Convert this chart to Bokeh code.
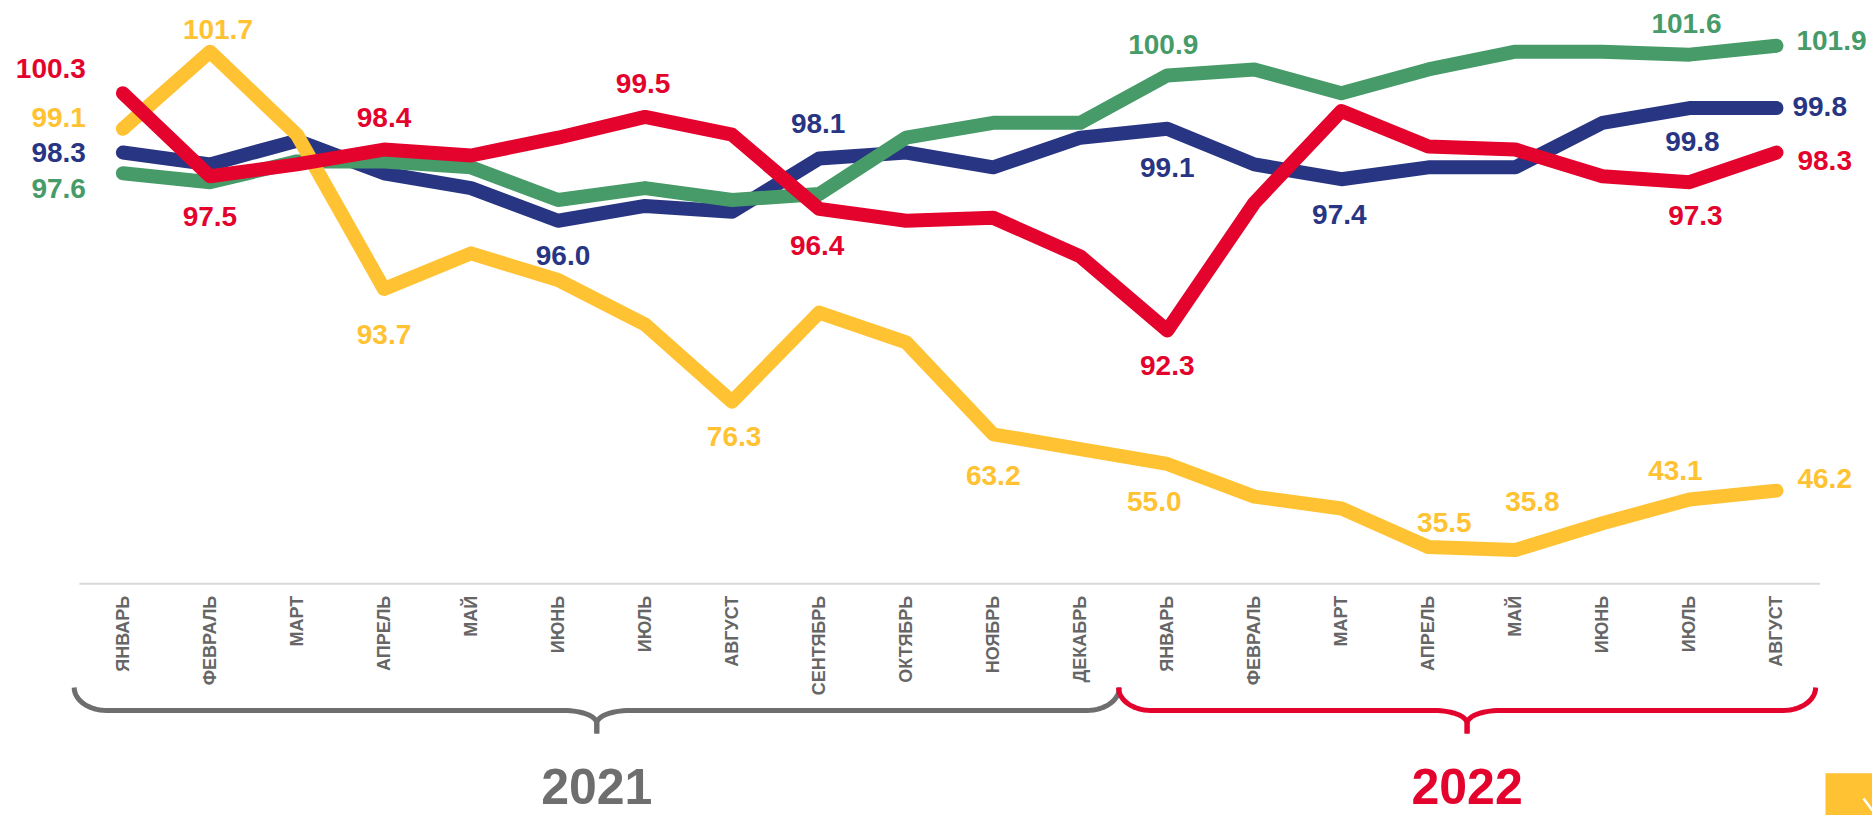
import math
import numpy as np
from bokeh.plotting import figure
from bokeh.models import Range1d
from bokeh.core.properties import value
from bokeh.embed import file_html
from bokeh.resources import INLINE

# ---------------- data ----------------
months = ["ЯНВАРЬ", "ФЕВРАЛЬ", "МАРТ", "АПРЕЛЬ", "МАЙ", "ИЮНЬ", "ИЮЛЬ", "АВГУСТ",
          "СЕНТЯБРЬ", "ОКТЯБРЬ", "НОЯБРЬ", "ДЕКАБРЬ",
          "ЯНВАРЬ", "ФЕВРАЛЬ", "МАРТ", "АПРЕЛЬ", "МАЙ", "ИЮНЬ", "ИЮЛЬ", "АВГУСТ"]
year_names = ["2021", "2022"]
year_months = [12, 8]

red = [100.3, 97.5, 97.9, 98.4, 98.2, 98.8, 99.5, 98.9, 96.4, 96.0, 96.1, 94.8,
       92.3, 96.6, 99.7, 98.5, 98.4, 97.5, 97.3, 98.3]
blue = [98.3, 97.9, 98.7, 97.6, 97.1, 96.0, 96.5, 96.3, 98.1, 98.3, 97.8, 98.8,
        99.1, 97.9, 97.4, 97.8, 97.8, 99.3, 99.8, 99.8]
green = [97.6, 97.3, 98.0, 98.0, 97.8, 96.7, 97.1, 96.7, 96.9, 98.8, 99.3, 99.3,
         100.9, 101.1, 100.3, 101.1, 101.7, 101.7, 101.6, 101.9]
# yellow series is drawn on a compressed scale in the original; drawn positions + printed labels
yellow_drawn = [99.1, 101.7, 98.9, 93.7, 94.9, 94.0, 92.5, 89.9, 92.9, 91.9, 88.8, 88.3,
                87.8, 86.7, 86.3, 85.0, 84.9, 85.8, 86.6, 86.9]
yellow_label_idx = [0, 1, 3, 7, 10, 12, 15, 16, 18, 19]
yellow_label_txt = ["99.1", "101.7", "93.7", "76.3", "63.2", "55.0", "35.5", "35.8", "43.1", "46.2"]

red_label_idx = [0, 1, 3, 6, 8, 12, 18, 19]
blue_label_idx = [0, 5, 8, 12, 14, 18, 19]
green_label_idx = [0, 12, 18, 19]

# ---------------- style / layout ----------------
RED = "#E3032D"
YELLOW = "#FFC232"
BLUE = "#283583"
GREEN = "#469B68"
GREY = "#6E6E6E"
FONT = "Liberation Sans"

FIG_W, FIG_H = 1872, 815
X0, X1 = -1.4064, 20.1034
Y0, Y1 = 75.9473, 103.4255
PPX = FIG_W / (X1 - X0)
PPY = FIG_H / (Y1 - Y0)
Y_FLOOR = 83.76   # baseline of the category axis

# label placement (dx, dy in px; dy positive = down), alignment
red_off = {0: (-37, -25, "right"), 1: (0, 40, "center"), 3: (0, -32, "center"),
           6: (-2, -33, "center"), 8: (-2, 37, "center"), 12: (0, 35, "center"),
           18: (6, 33, "center"), 19: (21, 8, "left")}
yellow_off = {0: (-37, -11, "right"), 1: (8, -22, "center"), 3: (0, 46, "center"),
              7: (2, 35, "center"), 10: (0, 41, "center"), 12: (-13, 38, "center"),
              15: (16, -24, "center"), 16: (17, -48, "center"), 18: (-14, -29, "center"),
              19: (21, -12, "left")}
blue_off = {0: (-37, 0, "right"), 5: (5, 35, "center"), 8: (-1, -35, "center"),
            12: (0, 39, "center"), 14: (-2, 35, "center"), 18: (3, 33, "center"),
            19: (16, -2, "left")}
green_off = {0: (-37, 15, "right"), 12: (-4, -31, "center"), 18: (-3, -31, "center"),
             19: (20, -5, "left")}

p = figure(width=FIG_W, height=FIG_H, x_range=Range1d(X0, X1), y_range=Range1d(Y0, Y1),
           min_border=0, toolbar_location=None, output_backend="svg",
           x_axis_location=None, y_axis_location=None, title=None)
p.outline_line_color = None
p.grid.visible = False
p.background_fill_color = "white"
p.border_fill_color = "white"

idx = list(range(len(months)))

# axis line
p.line(x=[idx[0] - 0.5, idx[-1] + 0.5], y=[Y_FLOOR, Y_FLOOR], line_color="#D9D9D9", line_width=2)

# series lines (draw order: blue, green, yellow, red)
for ys, col in ((blue, BLUE), (green, GREEN), (yellow_drawn, YELLOW), (red, RED)):
    p.line(x=idx, y=ys, line_color=col, line_width=14, line_cap="round", line_join="round")


def add_labels(label_idx, texts, yvals, offsets, color):
    for align in ("left", "center", "right"):
        xs, ys, ts = [], [], []
        for i, t in zip(label_idx, texts):
            dx, dy, al = offsets[i]
            if al != align:
                continue
            xs.append(i + dx / PPX)
            ys.append(yvals[i] - dy / PPY)
            ts.append(t)
        if xs:
            p.text(x=xs, y=ys, text=ts, text_align=align, text_baseline="middle",
                   text_font=value(FONT), text_font_size="28px", text_font_style="bold",
                   text_color=color)


add_labels(red_label_idx, [f"{red[i]:.1f}" for i in red_label_idx], red, red_off, RED)
add_labels(blue_label_idx, [f"{blue[i]:.1f}" for i in blue_label_idx], blue, blue_off, BLUE)
add_labels(green_label_idx, [f"{green[i]:.1f}" for i in green_label_idx], green, green_off, GREEN)
add_labels(yellow_label_idx, yellow_label_txt, yellow_drawn, yellow_off, YELLOW)

# month tick labels (vertical)
p.text(x=idx, y=[Y_FLOOR - 12 / PPY] * len(idx), text=months, angle=math.pi / 2,
       text_align="right", text_baseline="middle", text_font=value(FONT),
       text_font_size="18px", text_font_style="bold", text_color="#666666")


# braces
def brace(i0, i1, color):
    xa = i0 - 0.56
    xb = i1 + 0.45
    xm = (xa + xb) / 2
    top = Y_FLOOR - 103.7 / PPY
    hor = Y_FLOOR - 126.7 / PPY
    t = np.linspace(0, math.pi / 2, 16)
    # left end corner
    lx = xa + (32.5 - 32.5 * np.cos(t)) / PPX
    ly = top - (23 * np.sin(t)) / PPY
    # cusp approach (left half)
    cx = xm - (33 - 33 * np.sin(t)) / PPX
    cy = hor - (13 - 13 * np.cos(t)) / PPY
    left_x = list(lx) + list(cx) + [xm]
    left_y = list(ly) + list(cy) + [hor - 23 / PPY]
    right_x = [2 * xm - v for v in left_x]
    p.multi_line(xs=[left_x, right_x], ys=[left_y, left_y], line_color=color,
                 line_width=5, line_cap="butt", line_join="round")
    return xm


start = 0
for name, n, col in zip(year_names, year_months, (GREY, RED)):
    xm = brace(start, start + n - 1, col)
    p.text(x=[xm], y=[Y_FLOOR - 203 / PPY], text=[name], text_align="center",
           text_baseline="middle", text_font=value(FONT), text_font_size="50px",
           text_font_style="bold", text_color=col)
    start += n

# decorative corner tab (slide element)
p.quad(left=[X0 + 1825 / PPX], right=[X1], top=[Y1 - 772.7 / PPY], bottom=[Y0],
       fill_color=YELLOW, line_color=None)
p.line(x=[X0 + 1863 / PPX, X1], y=[Y1 - 798 / PPY, Y1 - 810 / PPY], line_color="white", line_width=2.5)

open("out.html", "w").write(file_html(p, INLINE))
